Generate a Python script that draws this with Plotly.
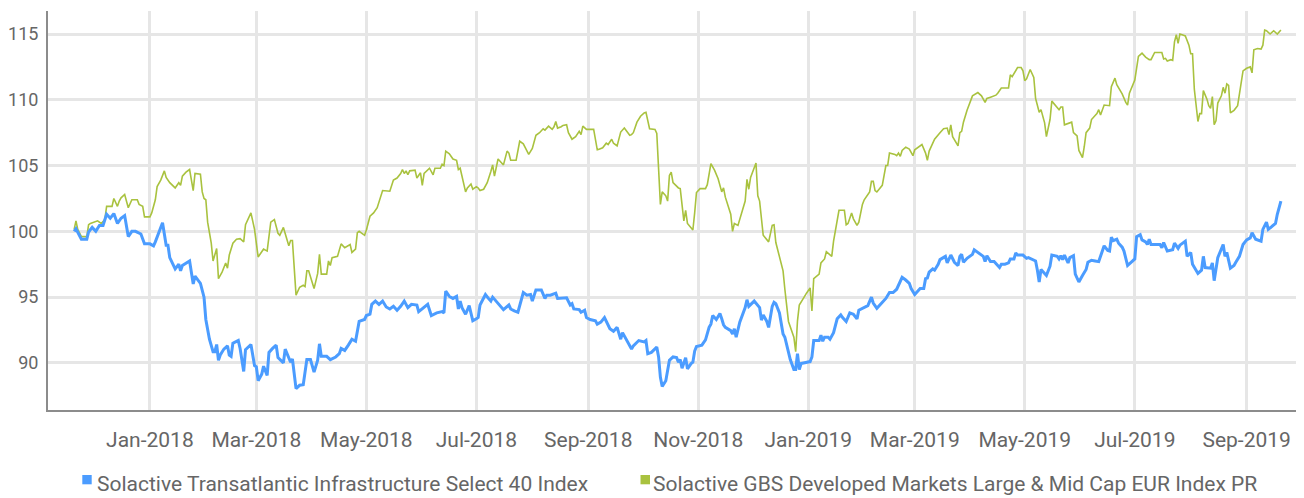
import pandas as pd
import plotly.graph_objects as go

# Dates are stored as day offsets from 2018-01-01
base_date = "2018-01-01"

infra_days = [-42, -41, -38, -35, -34, -32, -30, -28, -26, -24, -22, -20, -18, -16, -14, -12, -10, -8, -5, -3,
              0, 2, 3, 5, 7, 9, 10, 11, 14, 16, 17, 18, 22, 24, 25, 28, 30, 31, 33, 35,
              36, 37, 38, 39, 41, 43, 44, 45, 46, 49, 50, 52, 53, 56, 58, 59, 60, 62, 63, 65,
              66, 68, 70, 71, 74, 75, 76, 78, 79, 81, 83, 85, 87, 89, 91, 93, 94, 95, 98, 100,
              103, 105, 106, 108, 110, 112, 114, 115, 116, 119, 120, 122, 123, 125, 127, 129, 131, 133, 135, 137,
              139, 141, 143, 145, 148, 149, 152, 154, 156, 159, 162, 163, 164, 166, 168, 170, 171, 172, 173, 175,
              177, 179, 181, 182, 183, 186, 188, 189, 190, 192, 194, 196, 199, 200, 202, 204, 207, 209, 211, 212,
              214, 217, 219, 220, 222, 225, 226, 229, 231, 233, 234, 235, 238, 239, 241, 242, 244, 247, 248, 250,
              252, 255, 257, 259, 261, 262, 264, 267, 268, 271, 274, 275, 276, 278, 281, 282, 283, 284, 286, 288,
              290, 292, 293, 294, 295, 297, 298, 300, 301, 302, 303, 306, 308, 310, 311, 312, 314, 316, 317, 318,
              319, 322, 323, 324, 325, 327, 330, 331, 332, 334, 335, 338, 339, 340, 342, 343, 345, 346, 347, 349,
              351, 352, 354, 355, 357, 358, 359, 360, 361, 363, 366, 367, 368, 371, 372, 373, 374, 376, 377, 379,
              381, 383, 384, 386, 388, 390, 392, 393, 396, 398, 400, 401, 403, 406, 408, 410, 412, 414, 415, 417,
              419, 421, 422, 424, 425, 427, 429, 430, 431, 432, 434, 435, 437, 438, 441, 442, 444, 446, 448, 449,
              450, 451, 453, 456, 457, 458, 460, 462, 463, 464, 466, 468, 471, 472, 474, 476, 477, 479, 480, 481,
              484, 486, 487, 489, 491, 492, 493, 494, 496, 497, 499, 500, 503, 504, 505, 506, 507, 509, 510, 512,
              513, 515, 517, 519, 520, 522, 524, 526, 527, 529, 531, 532, 533, 534, 536, 537, 539, 540, 542, 544,
              546, 547, 549, 550, 552, 553, 554, 555, 560, 561, 562, 564, 567, 568, 570, 571, 573, 574, 575, 577,
              578, 581, 583, 584, 585, 588, 589, 590, 592, 594, 595, 596, 597, 599, 601, 602, 604, 606, 608, 610,
              611, 613, 616, 617, 619, 620, 622, 624, 625, 626, 627]
infra_values = [100.0, 100.2, 99.4, 99.4, 99.95, 100.3, 100.0, 100.45, 100.45, 101.3, 101.0, 101.35, 100.6, 101.0, 101.2, 99.6, 100.0, 100.0, 99.8, 99.05,
                99.05, 98.9, 99.2, 99.9, 100.65, 98.95, 98.95, 98.0, 97.15, 97.5, 97.0, 97.4, 97.75, 96.0, 96.6, 96.05, 95.0, 93.3, 91.8, 90.85,
                90.85, 91.4, 90.2, 90.6, 91.05, 91.3, 90.6, 90.5, 91.5, 91.7, 91.1, 89.35, 91.0, 91.4, 89.8, 89.7, 88.65, 89.15, 89.75, 89.05,
                90.8, 91.1, 91.35, 90.4, 90.0, 91.05, 90.7, 90.05, 90.3, 88.05, 88.3, 88.35, 90.25, 90.25, 89.3, 90.2, 91.45, 90.5, 90.5, 90.25,
                90.45, 90.7, 91.1, 90.95, 91.35, 91.8, 91.65, 92.6, 93.15, 93.3, 93.6, 93.7, 94.45, 94.7, 94.45, 94.7, 94.25, 94.1, 94.3, 94.0,
                94.3, 94.7, 94.2, 94.45, 94.4, 93.9, 94.2, 94.45, 93.6, 93.8, 93.9, 93.8, 95.45, 95.05, 94.9, 95.05, 94.1, 94.7, 94.2, 93.7,
                94.35, 93.2, 93.35, 93.45, 94.4, 95.2, 94.85, 94.7, 95.0, 94.7, 94.4, 94.05, 94.4, 94.1, 93.95, 93.85, 95.35, 95.15, 95.2, 94.7,
                95.55, 95.55, 94.9, 95.15, 95.15, 95.3, 94.9, 94.95, 94.95, 94.4, 94.5, 94.1, 94.05, 93.85, 94.0, 93.45, 93.3, 93.2, 92.95, 93.1,
                93.45, 92.6, 92.4, 92.7, 91.8, 92.3, 91.8, 91.05, 91.3, 91.7, 91.6, 91.7, 90.7, 90.8, 91.2, 90.45, 88.9, 88.2, 88.65, 90.2,
                90.45, 90.4, 90.05, 90.25, 89.6, 90.4, 89.55, 89.95, 90.05, 90.9, 91.25, 91.35, 91.75, 92.7, 92.95, 93.6, 93.3, 93.75, 93.35, 92.9,
                92.7, 92.45, 92.2, 92.6, 91.95, 93.1, 94.2, 94.8, 94.3, 94.6, 94.7, 94.2, 93.25, 93.65, 93.15, 92.7, 94.3, 94.6, 94.5, 93.8,
                92.2, 91.95, 90.8, 90.25, 89.5, 89.5, 90.7, 89.5, 89.95, 90.0, 90.1, 90.45, 91.7, 91.7, 92.1, 91.65, 91.95, 91.95, 91.8, 92.3,
                93.35, 93.65, 93.45, 93.15, 93.8, 93.7, 93.35, 94.0, 94.2, 94.35, 95.0, 94.55, 94.15, 94.6, 94.9, 95.35, 95.35, 95.6, 95.9, 96.5,
                96.3, 96.05, 95.65, 95.2, 95.35, 95.65, 95.65, 96.4, 96.45, 96.9, 97.15, 97.05, 97.5, 97.85, 98.1, 97.6, 98.2, 97.65, 97.4, 98.1,
                98.25, 97.65, 97.95, 98.25, 98.6, 98.5, 98.25, 98.1, 97.7, 98.15, 97.7, 97.7, 97.25, 97.5, 97.5, 97.6, 97.9, 97.9, 98.35, 98.2,
                98.2, 97.95, 98.0, 97.85, 97.75, 97.05, 96.15, 97.1, 96.85, 96.65, 97.35, 98.2, 98.1, 97.9, 98.15, 97.85, 98.2, 97.6, 98.0, 98.15,
                96.75, 96.15, 96.65, 97.1, 97.65, 97.8, 97.75, 97.7, 98.1, 98.9, 98.55, 98.5, 99.55, 99.3, 99.4, 99.1, 98.8, 98.5, 97.4, 97.65,
                97.9, 99.6, 99.75, 99.35, 99.2, 99.0, 99.4, 99.0, 99.0, 98.75, 99.15, 98.5, 98.6, 99.1, 98.7, 98.95, 99.2, 99.25, 98.1, 98.4,
                97.5, 96.8, 97.05, 98.1, 97.25, 97.2, 97.6, 96.25, 98.0, 98.6, 99.0, 98.1, 98.4, 97.2, 97.4, 97.65, 98.1, 99.0, 99.35, 99.5,
                99.9, 99.4, 99.25, 100.15, 100.7, 100.15, 100.4, 100.6, 101.3, 101.9, 102.3]

gbs_days = [-42, -41, -40, -38, -35, -34, -33, -31, -29, -27, -25, -24, -21, -20, -18, -17, -16, -14, -12, -10,
            -7, -6, -4, -3, 0, 1, 3, 4, 6, 8, 9, 11, 14, 16, 17, 18, 20, 22, 24, 25,
            28, 29, 30, 31, 32, 34, 35, 37, 38, 40, 42, 43, 44, 46, 48, 50, 52, 53, 56, 58,
            60, 62, 63, 65, 67, 69, 71, 72, 74, 77, 78, 79, 81, 83, 85, 86, 87, 88, 91, 93,
            94, 95, 98, 99, 100, 101, 104, 106, 108, 111, 112, 114, 115, 116, 119, 120, 122, 124, 126, 129,
            131, 133, 135, 137, 139, 140, 141, 142, 143, 144, 147, 148, 150, 151, 152, 155, 157, 158, 161, 162,
            163, 164, 166, 168, 170, 171, 172, 175, 176, 178, 179, 181, 182, 183, 185, 187, 189, 190, 191, 193,
            196, 198, 199, 200, 203, 205, 207, 210, 212, 214, 216, 218, 219, 221, 223, 224, 225, 226, 228, 229,
            231, 232, 234, 236, 238, 239, 240, 242, 246, 248, 249, 251, 253, 254, 256, 257, 259, 261, 263, 266,
            267, 268, 270, 272, 274, 275, 277, 280, 281, 282, 283, 284, 286, 287, 288, 289, 290, 293, 294, 296,
            297, 298, 301, 302, 303, 305, 308, 309, 310, 311, 313, 315, 317, 318, 319, 322, 323, 324, 326, 327,
            330, 331, 332, 333, 336, 337, 338, 340, 343, 345, 346, 347, 349, 351, 352, 354, 357, 358, 359, 360,
            362, 363, 364, 366, 367, 368, 371, 372, 374, 375, 378, 379, 380, 382, 385, 386, 387, 389, 390, 392,
            393, 395, 396, 399, 400, 401, 402, 403, 406, 407, 408, 409, 410, 413, 414, 415, 416, 417, 419, 421,
            423, 424, 427, 428, 430, 431, 432, 434, 435, 438, 440, 442, 443, 444, 445, 448, 449, 450, 451, 453,
            455, 456, 459, 461, 463, 464, 466, 469, 470, 472, 476, 477, 478, 480, 481, 483, 484, 485, 486, 488,
            490, 491, 493, 494, 496, 497, 499, 500, 502, 504, 505, 506, 507, 511, 512, 514, 515, 517, 518, 519,
            521, 522, 524, 525, 526, 527, 529, 531, 532, 533, 535, 536, 539, 541, 542, 543, 546, 548, 550, 552,
            554, 555, 557, 561, 562, 563, 564, 566, 567, 568, 569, 570, 571, 573, 574, 576, 577, 578, 579, 581,
            582, 583, 584, 586, 587, 588, 589, 590, 591, 592, 594, 595, 596, 597, 598, 599, 601, 603, 605, 606,
            608, 610, 611, 612, 614, 616, 617, 618, 619, 621, 623, 625, 627]
gbs_values = [100.15, 100.8, 100.15, 99.6, 99.6, 100.5, 100.6, 100.7, 100.8, 100.6, 100.9, 101.9, 101.9, 102.5, 101.9, 102.3, 102.55, 102.8, 101.8, 102.4,
              102.4, 102.05, 101.9, 101.1, 101.1, 101.4, 102.4, 103.4, 103.9, 104.6, 104.1, 103.7, 103.3, 103.7, 103.5, 104.2, 104.5, 104.7, 103.1, 104.4,
              104.35, 103.0, 102.5, 102.4, 100.7, 99.1, 97.75, 98.7, 96.4, 96.9, 97.6, 97.2, 98.2, 99.1, 99.4, 99.45, 99.2, 100.5, 101.4, 100.15,
              98.05, 98.45, 98.65, 98.5, 100.7, 100.9, 99.85, 99.7, 100.3, 98.9, 99.3, 99.3, 95.15, 95.75, 95.9, 95.8, 97.0, 97.0, 95.65, 96.8,
              98.25, 96.75, 96.75, 97.75, 97.4, 98.0, 98.1, 99.05, 98.75, 99.0, 98.4, 98.65, 99.9, 100.0, 99.7, 100.1, 101.15, 101.4, 101.8, 103.1,
              103.05, 103.05, 103.9, 104.05, 104.4, 104.7, 104.4, 104.6, 104.3, 104.6, 104.65, 104.05, 104.45, 103.5, 104.4, 104.8, 104.3, 104.8, 104.8, 105.1,
              105.0, 106.1, 105.9, 105.5, 105.4, 104.7, 104.8, 103.0, 103.3, 103.6, 103.2, 103.4, 103.3, 103.1, 103.2, 103.7, 104.55, 105.05, 104.2, 105.5,
              105.05, 106.1, 105.95, 105.4, 105.4, 106.85, 106.65, 105.85, 106.3, 107.3, 107.5, 107.8, 107.7, 108.0, 107.75, 107.95, 108.35, 107.85, 107.95, 108.05,
              108.1, 107.5, 107.0, 107.2, 107.6, 107.35, 108.0, 107.75, 107.75, 106.2, 106.25, 106.35, 106.7, 106.6, 107.0, 106.7, 106.5, 107.55, 107.85, 107.3,
              107.35, 107.5, 108.3, 108.75, 109.0, 109.05, 107.8, 107.75, 107.45, 105.0, 102.05, 103.0, 102.7, 102.3, 104.25, 104.5, 103.7, 103.3, 103.25, 100.8,
              101.6, 100.6, 100.1, 101.4, 102.95, 103.25, 103.25, 103.55, 104.55, 105.15, 104.65, 104.0, 103.0, 103.3, 102.6, 101.3, 100.0, 100.6, 100.45, 100.9,
              102.3, 103.95, 103.2, 104.1, 105.2, 102.7, 102.3, 99.7, 99.2, 100.45, 100.5, 99.15, 98.0, 97.0, 95.6, 93.15, 91.95, 90.85, 93.2, 94.4,
              94.85, 95.1, 95.3, 95.7, 93.95, 96.4, 96.75, 97.6, 97.9, 98.45, 98.1, 99.25, 99.95, 101.6, 101.6, 100.5, 100.6, 101.4, 100.95, 100.45,
              100.7, 102.05, 102.4, 103.0, 103.8, 103.8, 103.1, 103.0, 103.5, 104.45, 105.0, 105.0, 105.95, 105.85, 105.75, 105.95, 105.7, 106.15, 106.4, 106.25,
              105.75, 106.2, 106.5, 106.6, 105.95, 105.4, 106.1, 106.65, 107.0, 107.5, 107.8, 107.85, 107.35, 108.1, 107.2, 106.5, 107.5, 107.6, 108.3, 109.2,
              110.0, 110.3, 110.55, 110.3, 109.8, 110.1, 110.2, 110.35, 110.5, 110.9, 110.9, 111.9, 111.75, 112.3, 112.45, 112.45, 112.2, 111.45, 111.6, 112.3,
              111.7, 110.1, 109.05, 109.25, 108.25, 107.2, 108.5, 109.9, 109.55, 109.25, 109.45, 109.45, 108.1, 108.3, 107.5, 107.25, 106.15, 105.6, 106.45, 107.5,
              107.85, 108.5, 108.8, 108.95, 109.25, 108.85, 109.6, 109.6, 109.55, 111.0, 111.65, 111.15, 110.45, 109.8, 109.6, 110.5, 111.5, 113.3, 113.55, 113.25,
              113.05, 113.05, 113.6, 113.6, 113.1, 113.15, 112.95, 113.05, 113.0, 114.4, 114.95, 114.3, 115.0, 114.9, 114.85, 114.15, 113.5, 113.5, 110.8, 108.35,
              108.95, 108.95, 110.7, 110.05, 109.55, 109.35, 110.25, 108.1, 108.4, 109.75, 110.3, 110.95, 110.5, 111.2, 111.1, 109.0, 109.2, 109.55, 111.5, 112.2,
              112.4, 112.5, 112.05, 113.8, 113.9, 113.85, 114.15, 115.3, 115.25, 115.0, 115.25, 115.0, 115.3]

series_names = ["Solactive Transatlantic Infrastructure Select 40 Index",
                "Solactive GBS Developed Markets Large & Mid Cap EUR Index PR"]

BLUE = "#4b9cff"
GREEN = "#a9c23f"
TEXT = "#666666"
GRID = "#e6e6e6"
AXIS = "#8c8c8c"
FONT = "Roboto, sans-serif"

t0 = pd.Timestamp(base_date)
infra_dates = t0 + pd.to_timedelta(infra_days, unit="D")
gbs_dates = t0 + pd.to_timedelta(gbs_days, unit="D")

fig = go.Figure()
fig.add_trace(go.Scatter(x=gbs_dates, y=gbs_values, mode="lines", name=series_names[1],
                         line=dict(color=GREEN, width=1.6), showlegend=False))
fig.add_trace(go.Scatter(x=infra_dates, y=infra_values, mode="lines", name=series_names[0],
                         line=dict(color=BLUE, width=3), showlegend=False))

# The page body adds an 8px offset; the figure is sized so the plot lands where the reference has it.
OFF = 8
W, H = 1304 - OFF, 498 - OFF
ml, mr, mt, mb = 48 - OFF, 0, 11 - OFF, 88
pw, ph = W - ml - mr, H - mt - mb

def px(xs):
    return (xs - OFF - ml) / pw

def py(ys):
    return (H - mb - (ys - OFF)) / ph

# legend (squares + labels)
fig.add_shape(type="rect", xref="paper", yref="paper", x0=px(82.3), x1=px(91.7), y0=py(484.3), y1=py(475),
              fillcolor=BLUE, line=dict(width=0))
fig.add_shape(type="rect", xref="paper", yref="paper", x0=px(640.5), x1=px(650), y0=py(484.3), y1=py(475),
              fillcolor=GREEN, line=dict(width=0))
fig.add_annotation(x=px(94.5), y=py(484), xref="paper", yref="paper", xanchor="left", yanchor="middle",
                   text=series_names[0], showarrow=False, font=dict(family=FONT, size=21, color=TEXT))
fig.add_annotation(x=px(650.5), y=py(484), xref="paper", yref="paper", xanchor="left", yanchor="middle",
                   text=series_names[1], showarrow=False, font=dict(family=FONT, size=21, color=TEXT))

fig.update_layout(
    width=W, height=H,
    margin=dict(l=ml, r=mr, t=mt, b=mb, autoexpand=False),
    paper_bgcolor="white", plot_bgcolor="white",
    showlegend=False,
    font=dict(family=FONT, color=TEXT),
    xaxis=dict(
        type="date",
        range=[t0 + pd.Timedelta(days=-56.5), t0 + pd.Timedelta(days=639.8)],
        tick0="2018-01-01", dtick="M2", tickformat="%b-%Y",
        showgrid=True, gridcolor=GRID, gridwidth=3,
        showline=True, linecolor=AXIS, linewidth=2,
        ticks="", ticklabelstandoff=10, automargin=False,
        tickfont=dict(family=FONT, size=21, color=TEXT),
        zeroline=False,
    ),
    yaxis=dict(
        range=[86.42, 116.75],
        tick0=0, dtick=5,
        showgrid=True, gridcolor=GRID, gridwidth=3,
        showline=True, linecolor=AXIS, linewidth=2,
        ticks="", ticklabelstandoff=4, automargin=False,
        tickfont=dict(family=FONT, size=18, color=TEXT),
        zeroline=False,
    ),
)

fig.write_html("out.html")
